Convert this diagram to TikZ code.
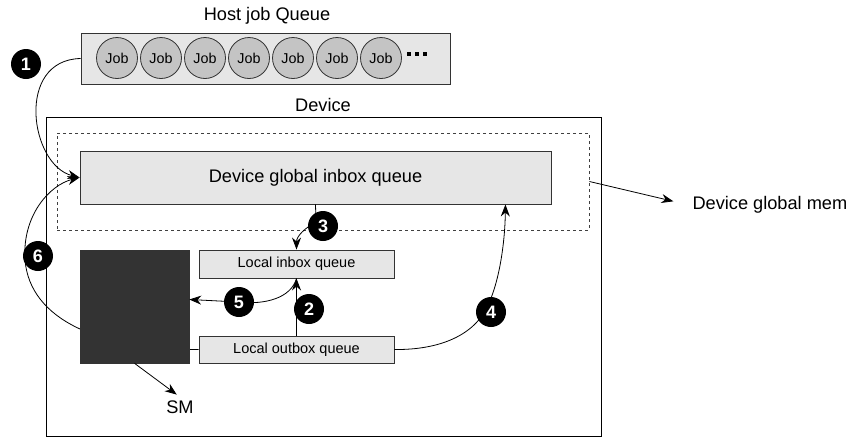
\documentclass[tikz,border=0pt]{standalone}
\usepackage{fontspec}
\setmainfont{Liberation Sans}
\usetikzlibrary{arrows.meta}
\definecolor{boxfill}{HTML}{E6E6E6}
\definecolor{jobfill}{HTML}{C4C4C4}
\definecolor{smfill}{HTML}{333333}
\begin{document}
\begin{tikzpicture}[x=1pt,y=-1pt,
  qbox/.style={rectangle, draw=black!80, line width=0.9pt, fill=boxfill, inner sep=0pt},
  job/.style={circle, draw=black!80, line width=0.8pt, fill=jobfill, minimum size=41pt, inner sep=0pt, font=\fontsize{14.3}{16}\selectfont},
  marker/.style={circle, fill=black, text=white, minimum size=30pt, inner sep=0pt, font=\fontsize{18}{19}\selectfont\bfseries},
  conn/.style={draw=black, line width=0.8pt},
  tip/.style={-{Stealth[length=12pt,width=9pt]}},
  lbl/.style={font=\fontsize{18.2}{20}\selectfont},
  small/.style={font=\fontsize{14.5}{16}\selectfont},
]
\useasboundingbox (0,0) rectangle (850,437);

% containers
\node[rectangle, draw=black, line width=0.9pt, fill=white, minimum width=555pt, minimum height=319pt, inner sep=0pt] (device) at (323.5,276.5) {};
\node[lbl] (devlbl) at (323,105) {Device};
\node[rectangle, draw=black!75, dashed, line width=0.9pt, minimum width=532pt, minimum height=97pt, inner sep=0pt] (gm) at (323,181.5) {};

% host queue
\node[lbl] (hostlbl) at (267,16) {Host job Queue};
\node[qbox, minimum width=369pt, minimum height=51pt] (host) at (265.5,58.5) {};
\foreach \i in {1,...,7}{
  \node[job] (j\i) at ({117+44*(\i-1)},58) {Job};
}
\foreach \x in {409,417,425}{
  \fill (\x-1.6,52.4) rectangle (\x+1.6,55.6);
}

% queues
\node[qbox, minimum width=471pt, minimum height=53pt, lbl] (ginbox) at (315.5,177.5) {Device global inbox queue};
\node[qbox, minimum width=195pt, minimum height=28pt, small] (linbox) at (296.5,264) {Local inbox queue};
\node[qbox, minimum width=195pt, minimum height=27pt, small] (loutbox) at (296.5,349.5) {Local outbox queue};

% connectors 1 and 6 (behind SM)
\draw[conn, tip] (host.west) .. controls (15,60) and (30,165) .. (ginbox.west);
\draw[conn, tip] (loutbox.west) .. controls (100,350) and (30,320) .. (25,260)
                 .. controls (22,215) and (50,185) .. (ginbox.west);

% SM
\node[rectangle, fill=smfill, draw=black!80, line width=0.6pt, minimum width=109pt, minimum height=113pt, inner sep=0pt] (sm) at (134.5,306.5) {};
\node[lbl] (smlbl) at (180,407) {SM};
\draw[conn, tip, shorten >=4pt] (sm.south) -- (smlbl.north);

% global mem
\node[lbl, anchor=west] (gmem) at (689,205) {Device global mem};
\draw[conn, tip, shorten >=16pt] (gm.east) -- (gmem.west);

% connector 2
\draw[conn, tip] (loutbox.north) -- (linbox.south);
% connector 3
\draw[conn, tip] (ginbox.south) -- (316,222) .. controls (305,228) and (296.5,236) .. (linbox.north);
% connector 4
\coordinate (g4) at ([xshift=-46pt]ginbox.south east);
\draw[conn, tip] (loutbox.east) .. controls (440,350) and (475,335) .. (488,305)
                 .. controls (500,280) and (505,240) .. (g4);
% connector 5
\draw[conn, tip] (linbox.south) .. controls (291,298) and (265,305) .. (239,302) -- ([yshift=7pt]sm.east);

% markers
\node[marker] (m1) at (26,64) {1};
\node[marker] (m2) at (309,309) {2};
\node[marker] (m3) at (323,226) {3};
\node[marker] (m4) at (491,312) {4};
\node[marker] (m5) at (239,302) {5};
\node[marker] (m6) at (38,256) {6};
\end{tikzpicture}
\end{document}
